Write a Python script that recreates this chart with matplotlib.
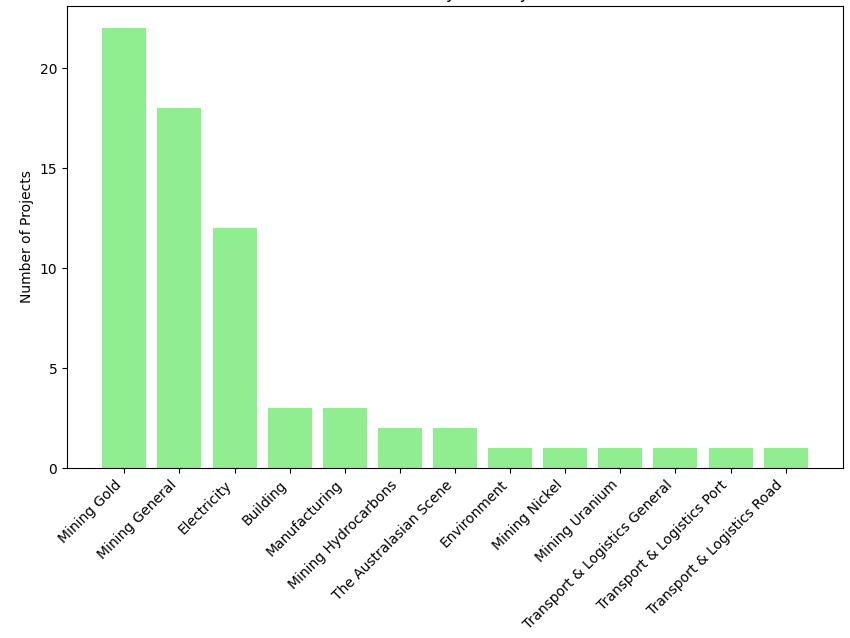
import matplotlib
matplotlib.use("Agg")
import matplotlib.pyplot as plt

industries = ["Mining Gold", "Mining General", "Electricity", "Building",
              "Manufacturing", "Mining Hydrocarbons", "The Australasian Scene",
              "Environment", "Mining Nickel", "Mining Uranium",
              "Transport & Logistics General", "Transport & Logistics Port",
              "Transport & Logistics Road"]
counts = [22, 18, 12, 3, 3, 2, 2, 1, 1, 1, 1, 1, 1]

fig = plt.figure(figsize=(8.5, 6.38), dpi=100)
ax = fig.add_axes([67/850, 1-468/638, (843-67)/850, (468-6)/638])
ax.bar(industries, counts, color="lightgreen")
ax.set_ylabel("Number of Projects")
ax.set_title("Count by Industry")
ax.set_yticks([0, 5, 10, 15, 20])
plt.setp(ax.get_xticklabels(), rotation=45, ha="right")
fig.savefig("out.png", dpi=100)
